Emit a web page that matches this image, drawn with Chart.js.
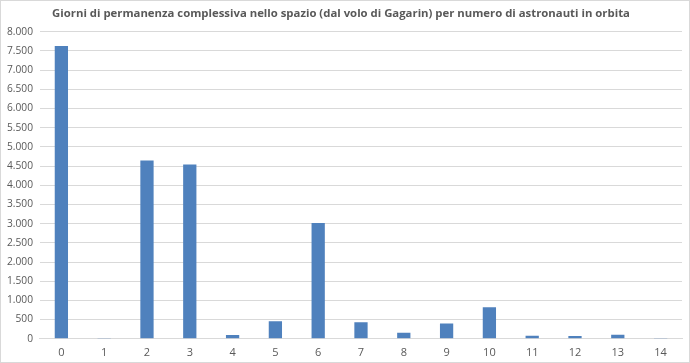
<!DOCTYPE html>
<html>
<head>
<meta charset="utf-8">
<script src="https://cdn.jsdelivr.net/npm/chart.js@4"></script>
<style>
  html, body { margin: 0; padding: 0; background: #fff; }
  .wrap { position: relative; width: 690px; height: 363px; }
  .frame { position: absolute; inset: 0; border: 1px solid #d9d9d9; pointer-events: none; }
</style>
</head>
<body>
<div class="wrap"><canvas id="chart"></canvas><div class="frame"></div></div>
<script>
const astronauts = ["0", "1", "2", "3", "4", "5", "6", "7", "8", "9", "10", "11", "12", "13", "14"];
const days = [7625, 8, 4645, 4540, 100, 455, 3015, 430, 160, 400, 820, 78, 75, 105, 10];
const titleText = "Giorni di permanenza complessiva nello spazio (dal volo di Gagarin) per numero di astronauti in orbita";

const formatIt = (n) => String(n).replace(/\B(?=(\d{3})+(?!\d))/g, ".");

const config = {
  type: "bar",
  data: {
    labels: astronauts,
    datasets: [
      {
        data: days,
        backgroundColor: "#4f81bd",
        borderWidth: 0,
        barPercentage: 0.31,
        categoryPercentage: 1,
      },
    ],
  },
  options: {
    responsive: true,
    maintainAspectRatio: false,
    animation: false,
    layout: { padding: { left: 0, right: 8, top: 4, bottom: -3 } },
    plugins: {
      legend: { display: false },
      tooltip: { enabled: false },
      title: {
        display: true,
        text: titleText,
        color: "#595959",
        font: { family: "Open Sans", size: 11.35, weight: "bold" },
        padding: { top: 3, bottom: 11 },
      },
    },
    scales: {
      x: {
        grid: { display: false, drawTicks: false },
        border: { color: "#d9d9d9" },
        ticks: { color: "#595959", font: { family: "Open Sans", size: 11 }, padding: 7 },
      },
      y: {
        min: 0,
        max: 8000,
        grid: { color: "#d9d9d9", drawTicks: false },
        border: { display: false },
        ticks: {
          stepSize: 500,
          color: "#595959",
          font: { family: "Open Sans", size: 10.2 },
          padding: 7,
          callback: (v) => formatIt(v),
        },
      },
    },
  },
};

new Chart(document.getElementById("chart"), config);
</script>
</body>
</html>
